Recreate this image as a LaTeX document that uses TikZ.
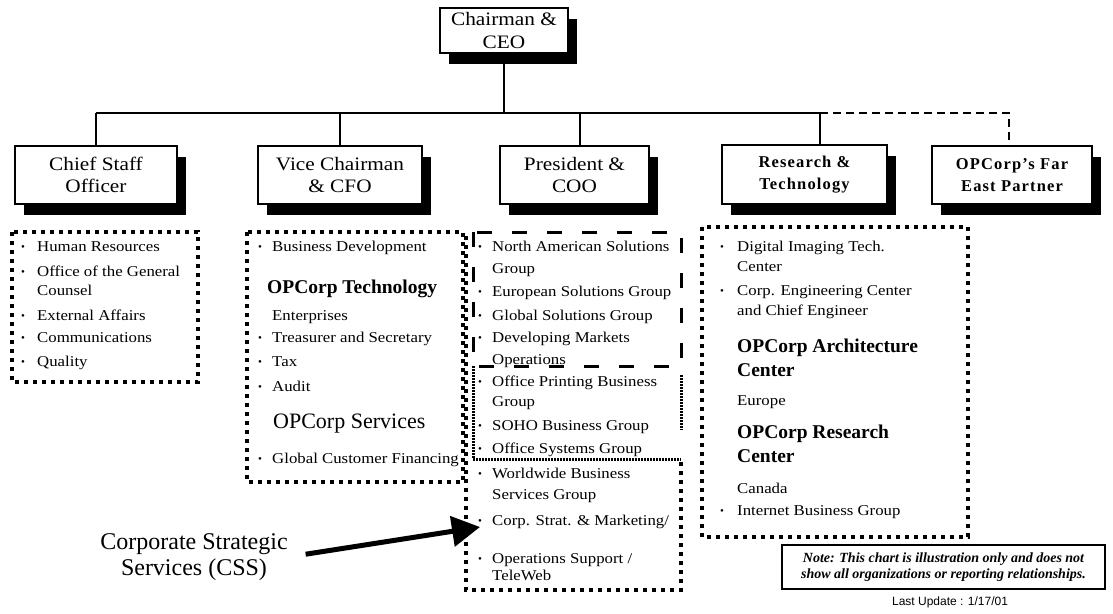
\documentclass[tikz,border=0pt]{standalone}
\usepackage{fontspec}
\setmainfont{Liberation Serif}
\newfontfamily\wide[FakeStretch=1.12]{Liberation Serif}
\newfontfamily\lsans{Liberation Sans}
\usetikzlibrary{shadows,arrows.meta,calc}
\newcommand\litem[5][]{\node[item,#1] (#2) at (#3,#4) {#5};}
\newcommand\lbul[3]{\node[bul] (#1) at (#2,#3) {\textbullet};}
\begin{document}
\begin{tikzpicture}[x=1pt,y=-1pt,
  orgbox/.style={draw=black,line width=1.2pt,fill=white,inner sep=0pt,align=center,
    drop shadow={shadow xshift=9pt,shadow yshift=-11pt,opacity=1,fill=black},
    font=\wide\fontsize{19}{22.5}\selectfont},
  boldbox/.style={orgbox,font=\fontsize{16.5}{22}\selectfont\bfseries\addfontfeature{LetterSpace=7}},
  item/.style={anchor=west,inner sep=0pt,text height=11pt,text depth=3.5pt,font=\wide\fontsize{15}{17}\selectfont},
  big/.style={text height=15pt,text depth=4.5pt,font=\fontsize{22}{24}\selectfont},
  bigb/.style={text height=15pt,text depth=4.5pt,font=\fontsize{19.5}{24}\selectfont\bfseries},
  bul/.style={anchor=center,inner sep=0pt,font=\fontsize{11}{11}\selectfont},
  dotbox/.style={line width=4pt,dash pattern=on 4pt off 5pt},
  longdash/.style={line width=3pt,dash pattern=on 15pt off 20pt},
  densedash/.style={line width=3pt,dash pattern=on 2pt off 1pt},
  bus/.style={line width=1.5pt},
  dbus/.style={line width=1.5pt,dash pattern=on 8pt off 5pt},
  bigarrow/.style={line width=5pt,-{Triangle[length=28pt,width=30pt]}}
]
\useasboundingbox (0,0) rectangle (1113,613);

% ---- top-level boxes ----
\node[orgbox,minimum width=128pt,minimum height=45pt] (ceo) at (504,30.5) {Chairman \&\\CEO};
\node[orgbox,minimum width=162pt,minimum height=58pt] (cso) at (96,175) {Chief Staff\\Officer};
\node[orgbox,minimum width=164pt,minimum height=58pt] (vc) at (340,175) {Vice Chairman\\\& CFO};
\node[orgbox,minimum width=149pt,minimum height=58pt] (pres) at (574.5,175) {President \&\\COO};
\node[boldbox,minimum width=165pt,minimum height=59pt] (rt) at (804.5,174.5) {Research \&\\Technology};
\node[boldbox,minimum width=160pt,minimum height=58pt] (fe) at (1012,175) {OPCorp's Far\\East Partner};

% ---- connectors ----
\coordinate (busL) at (96,113);
\coordinate (busM) at (820,113);
\coordinate (busR) at (1009,113);
\draw[bus] (ceo.south) -- (ceo.south |- busL);
\draw[bus] (busL) -- (busM);
\draw[bus] (cso.north) -- (cso.north |- busL);
\draw[bus] (vc.north) -- (vc.north |- busL);
\draw[bus] ([xshift=5.5pt]pres.north) -- ([xshift=5.5pt]pres.north |- busL);
\draw[bus] ([xshift=15.5pt]rt.north) -- ([xshift=15.5pt]rt.north |- busL);
\draw[dbus] (busM) -- (busR) -- ([xshift=-3pt]fe.north);

% ---- grouping frames ----
\draw[dotbox] (12,232) rectangle (198,382);
\draw[dotbox] (247,232) rectangle (463,482);
\draw[dotbox] (702,227) rectangle (968,537);
\draw[longdash] (473,232) rectangle (681,366);
\draw[densedash] (473,366) -- (473,458);
\draw[densedash] (681,375) -- (681,430);
\draw[densedash] (473,459) -- (681,459);
\draw[dotbox] (466,236) -- (466,590) -- (681,590) -- (681,462);

% ---- Chief Staff list ----
\lbul{csb1}{23}{248}\litem{cs1}{37}{248}{Human Resources}
\lbul{csb2}{23}{273}\litem{cs2}{37}{273}{Office of the General}
\litem{cs2b}{37}{292}{Counsel}
\lbul{csb3}{23}{317}\litem{cs3}{37}{317}{External Affairs}
\lbul{csb4}{23}{339}\litem{cs4}{37}{339}{Communications}
\lbul{csb5}{23}{363}\litem{cs5}{37}{363}{Quality}

% ---- Vice Chairman list ----
\lbul{vcb1}{260}{248}\litem{vc1}{272}{248}{Business Development}
\litem[bigb]{vc2}{267}{288}{OPCorp Technology}
\litem{vc3}{272}{317}{Enterprises}
\lbul{vcb4}{260}{339}\litem{vc4}{272}{339}{Treasurer and Secretary}
\lbul{vcb5}{260}{363}\litem{vc5}{272}{363}{Tax}
\lbul{vcb6}{260}{388}\litem{vc6}{272}{388}{Audit}
\litem[big]{vc7}{273}{423}{OPCorp Services}
\lbul{vcb8}{260}{460}\litem{vc8}{272}{460}{Global Customer Financing}

% ---- President list ----
\lbul{pb1}{480}{248}\litem{p1}{492}{248}{North American Solutions}
\litem{p1b}{492}{270}{Group}
\lbul{pb2}{480}{293}\litem{p2}{492}{293}{European Solutions Group}
\lbul{pb3}{480}{317}\litem{p3}{492}{317}{Global Solutions Group}
\lbul{pb4}{480}{339}\litem{p4}{492}{339}{Developing Markets}
\litem{p4b}{492}{361}{Operations}
\lbul{pb5}{480}{383}\litem{p5}{492}{383}{Office Printing Business}
\litem{p5b}{492}{403}{Group}
\lbul{pb6}{480}{427}\litem{p6}{492}{427}{SOHO Business Group}
\lbul{pb7}{480}{450}\litem{p7}{492}{450}{Office Systems Group}
\lbul{pb8}{480}{475}\litem{p8}{492}{475}{Worldwide Business}
\litem{p8b}{492}{496}{Services Group}
\lbul{pb9}{480}{522}\litem{p9}{492}{522}{Corp. Strat. \& Marketing/}
\lbul{pb10}{480}{560}\litem{p10}{492}{560}{Operations Support /}
\litem{p10b}{492}{577}{TeleWeb}

% ---- Research list ----
\lbul{rb1}{722}{248}\litem{r1}{737}{248}{Digital Imaging Tech.}
\litem{r1b}{737}{268}{Center}
\lbul{rb2}{722}{292}\litem{r2}{737}{292}{Corp. Engineering Center}
\litem{r2b}{737}{312}{and Chief Engineer}
\litem[bigb]{r3}{737}{347}{OPCorp Architecture}
\litem[bigb]{r3b}{737}{371}{Center}
\litem{r4}{737}{402}{Europe}
\litem[bigb]{r5}{737}{433}{OPCorp Research}
\litem[bigb]{r5b}{737}{457}{Center}
\litem{r6}{737}{490}{Canada}
\lbul{rb7}{722}{512}\litem{r7}{737}{512}{Internet Business Group}

% ---- CSS callout ----
\node[align=center,inner sep=0pt,font=\fontsize{24}{26}\selectfont] (css) at (194,557) {Corporate Strategic\\Services (CSS)};
\coordinate (arrtip) at (480,527);
\draw[bigarrow,shorten <=18pt] (css.east) -- (arrtip);

% ---- note ----
\node[draw=black,line width=1.4pt,minimum width=323pt,minimum height=44pt,inner sep=0pt,align=center,
  font=\fontsize{14}{15.5}\selectfont\bfseries\itshape] (note) at (943.5,567)
  {Note: This chart is illustration only and does not\\show all organizations or reporting relationships.};
\node[inner sep=0pt,font=\lsans\fontsize{12}{13}\selectfont] (upd) at (950,602) {Last Update : 1/17/01};
\end{tikzpicture}
\end{document}
